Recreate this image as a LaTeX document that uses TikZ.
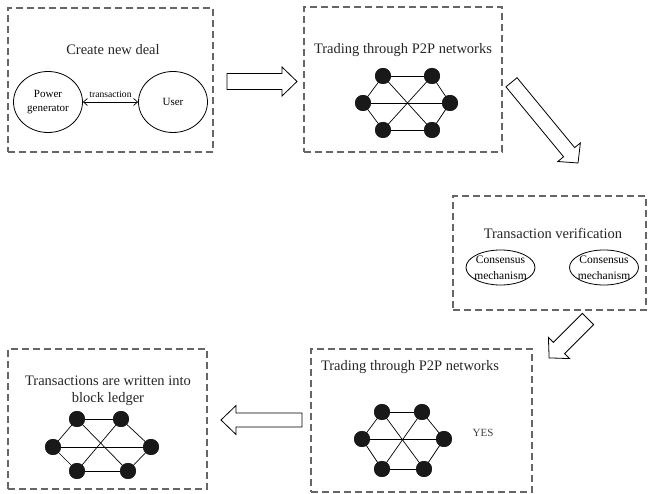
\documentclass[tikz,border=0pt]{standalone}
\usepackage{fontspec}
\setmainfont{Liberation Serif}
\usetikzlibrary{arrows.meta,shapes.geometric}

\tikzset{
  dashbox/.style={draw=black!60, line width=1.1pt, dash pattern=on 7pt off 4pt, inner sep=0pt},
  peer/.style={circle, fill=black!90, inner sep=0pt, minimum size=16pt},
  link/.style={line width=0.7pt},
  party/.style={ellipse, draw, line width=0.8pt, minimum width=69pt, minimum height=61pt, inner sep=0pt, align=center, font=\fontsize{11}{14.5}\selectfont},
  consensus/.style={ellipse, draw, line width=0.8pt, minimum width=69pt, minimum height=35pt, inner sep=0pt},
  title/.style={font=\fontsize{14.5}{17}\selectfont, align=center, text=black!85},
  fatline/.style={draw, line width=0.8pt, fill=white, line join=miter}
}

% hollow block arrow: x, y, angle, length, body half width, head half width, head length
\newcommand{\fatarrow}[7]{%
  \draw[fatline, shift={(#1,#2)}, rotate=#3] (0,-#5) -- ({#4-#7},-#5) -- ({#4-#7},-#6)
    -- (#4,0) -- ({#4-#7},#6) -- ({#4-#7},#5) -- (0,#5) -- cycle;}

\begin{document}
\begin{tikzpicture}[x=1pt,y=-1pt]
    \useasboundingbox (0,0) rectangle (649,494);
    %boxes
    \node[dashbox, minimum width=205pt, minimum height=144pt] (deal) at (110.5,80) {};
    \node[dashbox, minimum width=198pt, minimum height=145pt] (trade) at (403,79.5) {};
    \node[dashbox, minimum width=193pt, minimum height=114pt] (verify) at (549.5,253) {};
    \node[dashbox, minimum width=221pt, minimum height=143pt] (trade2) at (421.5,420.5) {};
    \node[dashbox, minimum width=199pt, minimum height=140pt] (ledger) at (107.5,419) {};
    %titles
    \node[title] (dealtitle) at (113,50) {Create new deal};
    \node[title] (tradetitle) at (403,50) {Trading through P2P networks};
    \node[title] (verifytitle) at (553,233) {Transaction verification};
    \node[title] (trade2title) at (410,367) {Trading through P2P networks};
    \node[title] (ledgertitle) at (108,391) {Transactions are written into\\block ledger};
    %create new deal
    \node[party] (gen) at (48,102) {Power\\generator};
    \node[party] (user) at (173,102) {User};
    \draw[line width=0.7pt, {Straight Barb[length=4pt,width=7pt]}-{Straight Barb[length=4pt,width=7pt]}] (gen) -- (user)
        node[midway, above=1pt, font=\fontsize{9.6}{11}\selectfont] (deallabel) {transaction};
    %verification
    \node[consensus] (cm1) at (500.5,267.5) {};
    \node[consensus] (cm2) at (604,267.5) {};
    \node[align=center, font=\fontsize{11.5}{16}\selectfont] (cm1text) at (cm1) {Consensus\\mechanism};
    \node[align=center, font=\fontsize{11.5}{16}\selectfont] (cm2text) at (cm2) {Consensus\\mechanism};
    %networks
    \node[peer] (tptl) at (383,76) {};
    \node[peer] (tptr) at (432,76) {};
    \node[peer] (tpml) at (363,103) {};
    \node[peer] (tpmr) at (450,103) {};
    \node[peer] (tpbl) at (383,130) {};
    \node[peer] (tpbr) at (432,130) {};
    \node[peer] (yestl) at (382,412) {};
    \node[peer] (yestr) at (422,412) {};
    \node[peer] (yesml) at (362,439) {};
    \node[peer] (yesmr) at (444,439) {};
    \node[peer] (yesbl) at (382,469) {};
    \node[peer] (yesbr) at (424,469) {};
    \node[peer] (ledtl) at (77,419) {};
    \node[peer] (ledtr) at (121,419) {};
    \node[peer] (ledml) at (53,447) {};
    \node[peer] (ledmr) at (151,447) {};
    \node[peer] (ledbl) at (77,471) {};
    \node[peer] (ledbr) at (128,471) {};
    \foreach \n in {tp,yes,led}
      \foreach \u/\v in {tl/tr,tr/mr,mr/br,br/bl,bl/ml,ml/tl,tl/br,tr/bl,ml/mr}
        \draw[link] (\n\u.center) -- (\n\v.center);
    \foreach \n in {tp,yes,led}
      \foreach \u in {tl,tr,ml,mr,bl,br}
        \fill[black!90] (\n\u) circle (8pt);
    \node[font=\fontsize{11}{13}\selectfont, text=black!75] (yes) at (483,433) {YES};
    %block arrows
    \fatarrow{227}{81.5}{0}{70}{8}{14.5}{15}
    \fatarrow{511.5}{82.3}{-50.5}{104.6}{7.2}{14.6}{14}
    \fatarrow{588}{319}{-135}{55}{8}{15}{14}
    \fatarrow{302}{420}{180}{81}{7}{14.5}{15}
\end{tikzpicture}
\end{document}
